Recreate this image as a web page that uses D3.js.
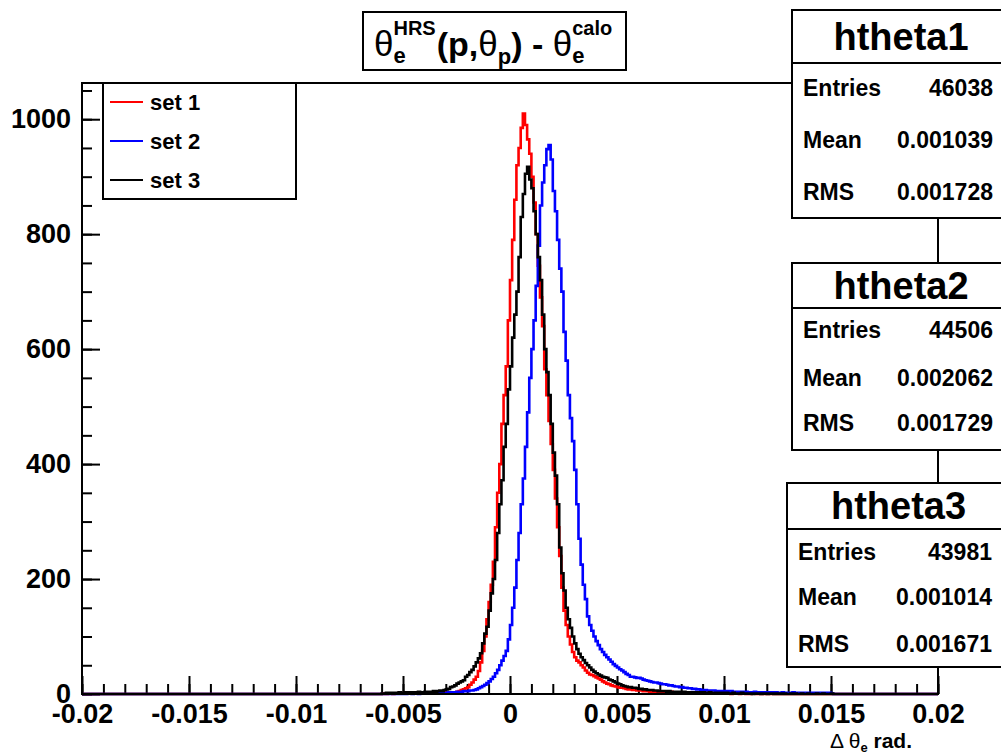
<!DOCTYPE html>
<html>
<head>
<meta charset="utf-8">
<script src="https://cdn.jsdelivr.net/npm/d3@7"></script>
<style>
body { margin: 0; background: #fff; }
text { font-family: "Liberation Sans", Arial, sans-serif; font-weight: bold; fill: #000; white-space: pre; }
</style>
</head>
<body>
<div id="vis"></div>
<script>
// histogram binning: 400 bins of 0.0001 rad between -0.02 and 0.02
const binLow = -0.02, binWidth = 0.0001, nBins = 400;
// first stored bin, counted from the bin starting at 0 (bin -60 starts at -0.006)
const firstBin = -60;

// set 1 (red) counts, bins -60 .. 150
const set1Counts = [
    0, 1, 0, 1, 1, 0, 1, 1, 2, 1, 1, 2, 1, 2, 2, 1, 2, 2, 3, 2,
    1, 2, 1, 2, 2, 1, 2, 3, 2, 2, 3, 2, 3, 3,
    3, 4, 5, 7, 8, 10, 12, 16, 20, 25,
    30, 40, 55, 75, 100, 130, 160, 190, 230, 290, 350, 400, 470, 520, 570, 650,
    720, 790, 860, 920, 950, 985, 1010, 990, 965, 940, 900, 855, 800, 745, 690, 640,
    565, 520, 475, 435, 390, 340, 290, 240, 185, 145, 120, 100, 86, 73, 64, 58,
    55, 50, 46, 41, 37, 34, 33, 31, 29, 27, 25, 22, 20, 18, 17, 15, 14, 13, 12,
    11, 11, 10, 9, 8, 8, 7, 7, 6, 6, 6, 5, 5, 5, 4, 5, 4, 4, 4, 3,
    4, 3, 3, 3, 4, 3, 3, 2, 3, 3, 2, 3, 2, 2, 3, 2, 2, 2, 1, 2, 2, 1, 2, 1, 1, 2, 1, 1, 2, 1,
    1, 1, 0, 1, 1, 1, 0, 1, 1, 0, 1, 0, 1, 1, 0, 1, 0, 0, 1, 0, 1, 0, 0, 1, 0,
    0, 1, 0, 0, 1, 0, 0, 0, 1, 0, 0, 0, 1, 0, 0, 0, 0, 1, 0, 0, 0, 0, 0, 1, 0
];

// set 2 (blue) counts, bins -60 .. 150
const set2Counts = [
    0, 0, 1, 0, 0, 1, 0, 0, 1, 0, 1, 0, 1, 1, 0, 1, 1, 0, 1, 1,
    1, 1, 2, 1, 1, 2, 2, 1, 2, 2, 2, 3, 2,
    3, 3, 4, 3, 4, 5, 5, 5, 6, 6, 7, 8, 10, 12, 14, 16,
    19, 22, 26, 30, 36, 42, 50, 58, 66, 75, 95, 120, 150, 185, 233, 280,
    330, 375, 430, 490, 550, 600, 650, 710, 780, 850, 890, 920, 948, 955, 930, 875,
    840, 790, 740, 700, 630, 580, 520, 480, 440, 390, 330, 270, 225, 190, 165, 135,
    120, 110, 100, 92, 85, 78, 73, 68, 64, 60, 56, 52, 49, 46, 43, 41, 38, 35, 33, 30,
    30, 29, 28, 28, 27, 25, 24, 23, 22, 21, 20, 20, 19, 18, 17, 17, 16, 15, 15, 14, 13, 13, 12, 12,
    11, 11, 10, 10, 9, 9, 8, 8, 7, 7, 7, 6, 6, 6, 6, 5, 5, 5, 5, 5,
    5, 4, 5, 4, 4, 4, 4, 4, 3, 4, 3, 3, 3, 4, 3, 3, 3, 3, 3, 3,
    3, 2, 3, 3, 2, 2, 3, 2, 2, 2, 2, 3, 2, 2, 2, 2, 2, 2, 1, 2, 2, 2, 1, 2, 2, 1, 2, 2, 2, 1
];

// set 3 (black) counts, bins -60 .. 150
const set3Counts = [
    1, 1, 2, 1, 2, 2, 1, 2, 3, 2, 2, 3, 2, 3, 3, 2, 3, 4, 3, 3,
    4, 3, 4, 4, 5, 4, 5, 6, 5, 7,
    8, 9, 12, 13, 15, 18, 20, 22,
    24, 30, 33, 38, 42, 48, 55, 62, 71, 88, 105, 117, 145, 175, 200, 233,
    280, 330, 372, 430, 470, 530, 570, 620, 660, 700, 760, 830, 870, 905, 917, 895,
    880, 840, 800, 760, 720, 660, 600, 560, 520, 470, 420, 380, 330, 255, 210, 180,
    150, 130, 115, 100, 88, 78, 70, 64, 59, 54, 50, 46, 42, 39, 36, 34, 32, 30, 29, 28,
    25, 24, 22, 20, 18, 17, 15, 14, 13, 12, 12, 11, 11, 10, 9, 9, 8, 8, 7, 7,
    7, 6, 6, 5, 5, 5, 5, 4, 5, 4, 4, 4, 4, 3, 4, 4, 3, 3, 3, 3, 3, 3, 2, 3, 3, 2, 2, 3, 2, 2, 2, 2, 2, 1, 2,
    2, 1, 1, 2, 1, 1, 1, 2, 1, 1, 1, 1, 0, 1, 1, 1, 0, 1, 1, 0, 1, 1, 0, 1, 0,
    1, 0, 1, 0, 0, 1, 0, 1, 0, 0, 1, 0, 0, 1, 0, 0, 0, 1, 0, 0, 1, 0, 0, 0, 1
];

const setNames = ["set 1", "set 2", "set 3"];
const setColors = ["#ff0000", "#0000ff", "#000000"];

const statNames = ["htheta1", "htheta2", "htheta3"];
const statEntries = ["46038", "44506", "43981"];
const statMeans = ["0.001039", "0.002062", "0.001014"];
const statRms = ["0.001728", "0.001729", "0.001671"];

const xMajorTicks = [-0.02, -0.015, -0.01, -0.005, 0, 0.005, 0.01, 0.015, 0.02];
const yMajorTicks = [0, 200, 400, 600, 800, 1000];

document.addEventListener("DOMContentLoaded", function () {
    const width = 1001, height = 755;
    const svg = d3.select("#vis").append("svg")
        .attr("width", width)
        .attr("height", height);

    svg.append("rect").attr("width", width).attr("height", height).attr("fill", "#fff");

    const frame = { left: 82, right: 938, top: 83, bottom: 694 };

    const x = d3.scaleLinear().domain([binLow, binLow + nBins * binWidth]).range([frame.left, frame.right]);
    const y = d3.scaleLinear().domain([0, 1063]).range([frame.bottom, frame.top]);

    const fmt = v => String(+v.toFixed(3));

    // axes, ticks pointing into the frame
    const xg = svg.append("g").attr("transform", `translate(0,${frame.bottom})`);
    xg.append("g")
        .call(d3.axisBottom(x).tickValues(d3.range(-20, 21).map(i => i / 1000)).tickSize(-10).tickSizeOuter(0).tickFormat(""))
        .call(g => g.select(".domain").remove());
    xg.append("g")
        .call(d3.axisBottom(x).tickValues(xMajorTicks).tickSize(-18).tickSizeOuter(0).tickPadding(10).tickFormat(fmt))
        .call(g => g.select(".domain").remove());

    const yg = svg.append("g").attr("transform", `translate(${frame.left},0)`);
    yg.append("g")
        .call(d3.axisLeft(y).tickValues(d3.range(0, 1051, 50)).tickSize(-10).tickSizeOuter(0).tickFormat(""))
        .call(g => g.select(".domain").remove());
    yg.append("g")
        .call(d3.axisLeft(y).tickValues(yMajorTicks).tickSize(-18).tickSizeOuter(0).tickPadding(11).tickFormat(d3.format("d")))
        .call(g => g.select(".domain").remove());

    svg.selectAll(".tick line").attr("stroke-width", 2);
    svg.selectAll(".tick text")
        .style("font-family", '"Liberation Sans", Arial, sans-serif')
        .style("font-weight", "bold")
        .style("font-size", "27px");

    // histograms
    svg.append("clipPath").attr("id", "frameclip")
        .append("rect")
        .attr("x", frame.left).attr("y", frame.top - 2)
        .attr("width", frame.right - frame.left).attr("height", frame.bottom - frame.top + 4);

    function fullHist(counts) {
        const h = new Array(nBins).fill(0);
        counts.forEach((c, i) => {
            const b = nBins / 2 + firstBin + i;
            if (b >= 0 && b < nBins) h[b] = c;
        });
        const pts = h.map((c, b) => [binLow + b * binWidth, c]);
        pts.push([binLow + nBins * binWidth, h[nBins - 1]]);
        return pts;
    }

    const line = d3.line()
        .x(d => x(d[0]))
        .y(d => y(d[1]))
        .curve(d3.curveStepAfter);

    const hists = [set1Counts, set2Counts, set3Counts];
    svg.append("g").attr("clip-path", "url(#frameclip)")
        .selectAll("path")
        .data(hists)
        .enter().append("path")
        .attr("d", d => line(fullHist(d)))
        .attr("fill", "none")
        .attr("stroke", (d, i) => setColors[i])
        .attr("stroke-width", 2.6)
        .attr("stroke-linejoin", "miter");

    // frame
    svg.append("rect")
        .attr("x", frame.left).attr("y", frame.top)
        .attr("width", frame.right - frame.left).attr("height", frame.bottom - frame.top)
        .attr("fill", "none").attr("stroke", "#000").attr("stroke-width", 2);

    // rich text helper: pieces laid out left to right, "stack" keeps the next piece at the same x
    function rich(parent, x0, parts) {
        let cx = x0, pending = 0;
        parts.forEach(p => {
            const t = parent.append("text")
                .attr("x", cx + (p.dx || 0))
                .attr("y", p.y)
                .style("font-size", p.size + "px")
                .style("font-weight", p.weight || "bold")
                .text(p.t);
            const w = t.node().getComputedTextLength() + (p.dx || 0);
            if (p.stack) {
                pending = Math.max(pending, w);
            } else {
                cx += Math.max(pending, w);
                pending = 0;
            }
        });
        return cx;
    }

    // legend
    const legend = svg.append("g");
    legend.append("rect")
        .attr("x", 103).attr("y", frame.top).attr("width", 193).attr("height", 116)
        .attr("fill", "#fff").attr("stroke", "#000").attr("stroke-width", 2);
    setNames.forEach((name, i) => {
        const ly = 102 + i * 39;
        legend.append("line")
            .attr("x1", 110).attr("x2", 143).attr("y1", ly).attr("y2", ly)
            .attr("stroke", setColors[i]).attr("stroke-width", 2);
        legend.append("text")
            .attr("x", 150).attr("y", ly + 8)
            .style("font-size", "22px")
            .text(name);
    });

    // title box
    const title = svg.append("g");
    title.append("rect")
        .attr("x", 363).attr("y", 12).attr("width", 263).attr("height", 58)
        .attr("fill", "#fff").attr("stroke", "#000").attr("stroke-width", 2);
    rich(title, 374, [
        { t: "θ", size: 35, weight: "normal", y: 56 },
        { t: "e", size: 22, y: 63, stack: true },
        { t: "HRS", size: 20, y: 35 },
        { t: "(p,", size: 34, y: 56, dx: 1 },
        { t: "θ", size: 35, weight: "normal", y: 56 },
        { t: "p", size: 22, y: 64 },
        { t: ") - ", size: 34, y: 56 },
        { t: "θ", size: 35, weight: "normal", y: 56 },
        { t: "e", size: 22, y: 63, stack: true },
        { t: "calo", size: 20, y: 35 }
    ]);

    // axis title
    const axTitle = svg.append("g");
    rich(axTitle, 830, [
        { t: "Δ ", size: 21, weight: "normal", y: 748 },
        { t: "θ", size: 21, weight: "normal", y: 748 },
        { t: "e", size: 13, y: 752 },
        { t: " rad.", size: 21, y: 748 }
    ]);

    // stat boxes
    const statLayout = [
        { x: 792, top: 10, div: 63, bottom: 218, label: 803, value: 993, rows: [88, 140, 192] },
        { x: 792, top: 263, div: 308, bottom: 450, label: 803, value: 993, rows: [330, 378, 423] },
        { x: 787, top: 483, div: 529, bottom: 667, label: 798, value: 992, rows: [552, 597, 644] }
    ];
    statNames.forEach((name, i) => {
        const L = statLayout[i];
        const g = svg.append("g");
        g.append("rect")
            .attr("x", L.x).attr("y", L.top).attr("width", 230).attr("height", L.bottom - L.top)
            .attr("fill", "#fff").attr("stroke", "#000").attr("stroke-width", 2);
        g.append("line")
            .attr("x1", L.x).attr("x2", L.x + 230).attr("y1", L.div).attr("y2", L.div)
            .attr("stroke", "#000").attr("stroke-width", 2);
        g.append("text")
            .attr("x", (L.x + 1010) / 2).attr("y", (L.top + L.div) / 2 + 13)
            .attr("text-anchor", "middle")
            .style("font-size", "38px")
            .text(name);
        const labels = ["Entries", "Mean", "RMS"];
        const values = [statEntries[i], statMeans[i], statRms[i]];
        labels.forEach((lab, j) => {
            g.append("text").attr("x", L.label).attr("y", L.rows[j] + 8)
                .style("font-size", "23px").text(lab);
            g.append("text").attr("x", L.value).attr("y", L.rows[j] + 8)
                .attr("text-anchor", "end")
                .style("font-size", "23px").text(values[j]);
        });
    });
});
</script>
</body>
</html>
